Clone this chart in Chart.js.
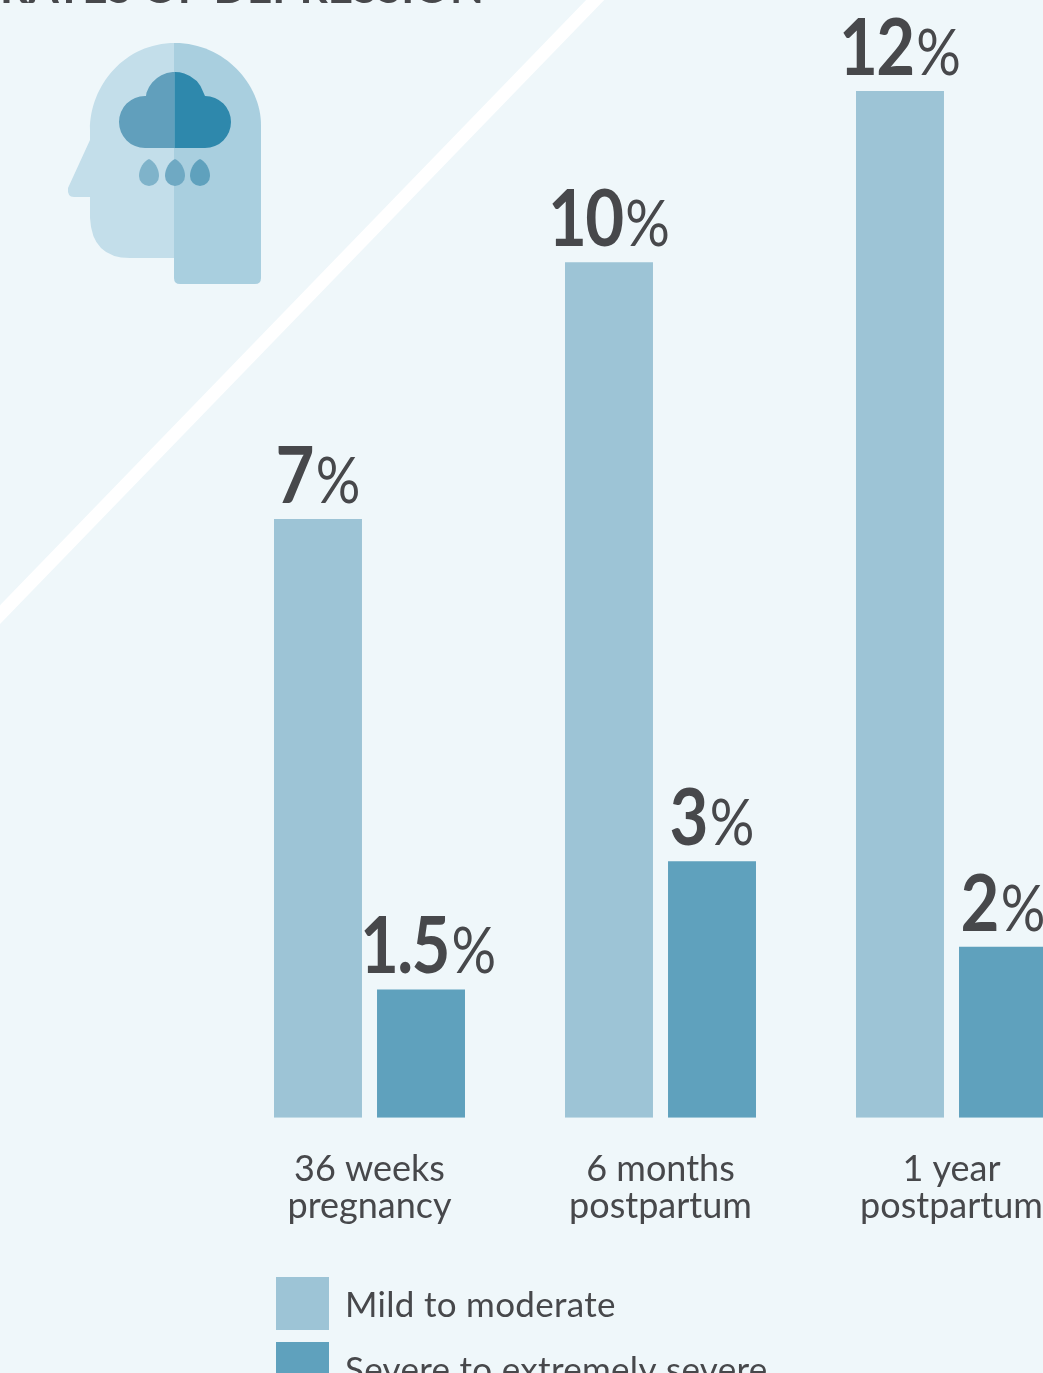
<!DOCTYPE html>
<html><head><meta charset="utf-8">
<style>
html,body{margin:0;padding:0;background:#eff7fa;width:1043px;height:1373px;overflow:hidden}
#wrap{position:relative;width:1043px;height:1373px;overflow:hidden}
canvas{display:block}
</style>
<script src="https://cdn.jsdelivr.net/npm/chart.js@4/dist/chart.umd.js"></script>
</head><body>
<div id="wrap"><canvas id="c" width="1097" height="1373"></canvas></div>
<script>
const categories = [["36 weeks","pregnancy"],["6 months","postpartum"],["1 year","postpartum"]];
const mildValues = [7,10,12];
const severeValues = [1.5,3,2];
const seriesNames = ["Mild to moderate","Severe to extremely severe"];
const seriesColors = ["#9dc4d6","#5fa1bd"];
const titleText = "RATES OF DEPRESSION";
const textColor = "#47484b";
const fontFamily = "Lato, 'Open Sans', sans-serif";

function pathRound(ctx, pts){ctx.beginPath();pts(ctx);ctx.closePath();ctx.fill();}

const backdrop = {
  id:'backdrop',
  beforeDraw(chart){
    const ctx = chart.ctx;
    ctx.save();
    ctx.fillStyle = '#eff7fa';
    ctx.fillRect(0,0,chart.width,chart.height);
    ctx.strokeStyle = '#ffffff';
    ctx.lineWidth = 13;
    ctx.beginPath();ctx.moveTo(-10,625);ctx.lineTo(600,-5);ctx.stroke();
    ctx.fillStyle = textColor;
    ctx.font = "700 44px " + fontFamily;
    ctx.textBaseline = 'alphabetic';
    ctx.textAlign = 'left';
    ctx.fillText(titleText, 0, 3);
    const head = c=>{
      c.moveTo(175,43);
      c.bezierCurveTo(125,43,90,85,90,130);
      c.lineTo(90,140);
      c.lineTo(68,188);
      c.quadraticCurveTo(67,197,74,197);
      c.lineTo(90,197);
      c.lineTo(90,218);
      c.quadraticCurveTo(92,258,130,258);
      c.lineTo(175,258);
    };
    ctx.fillStyle = '#c3deea';
    pathRound(ctx, head);
    ctx.fillStyle = '#a9cfdf';
    pathRound(ctx, c=>{
      c.moveTo(175,43);
      c.bezierCurveTo(225,43,261,85,261,125);
      c.lineTo(261,278);
      c.quadraticCurveTo(261,284,255,284);
      c.lineTo(180,284);
      c.quadraticCurveTo(174,284,174,278);
      c.lineTo(174,43);
    });
    const cloud = c=>{
      c.moveTo(145,148);
      c.arc(145,122,26,Math.PI/2,Math.PI*1.5);
      c.lineTo(146,96);
      c.arc(175,102,30,Math.PI*1.1,Math.PI*1.9);
      c.lineTo(205,96);
      c.arc(205,122,26,Math.PI*1.5,Math.PI/2);
      c.lineTo(145,148);
    };
    ctx.save();ctx.beginPath();ctx.rect(100,60,74.5,100);ctx.clip();
    ctx.fillStyle='#619fbc';pathRound(ctx,cloud);ctx.restore();
    ctx.save();ctx.beginPath();ctx.rect(174.5,60,70,100);ctx.clip();
    ctx.fillStyle='#2e88ac';pathRound(ctx,cloud);ctx.restore();
    [[149,'#7fb3ca'],[175,'#6fa9c3'],[200,'#5fa1bd']].forEach(([x,col])=>{
      ctx.fillStyle=col;
      pathRound(ctx,c=>{
        c.moveTo(x,159);
        c.bezierCurveTo(x+5,161,x+10,168,x+10,176);
        c.arc(x,176,10,0,Math.PI);
        c.bezierCurveTo(x-10,168,x-5,161,x,159);
      });
    });
    ctx.restore();
  }
};

function squeezed(ctx, text, x, y, font, sx, spacing){
  ctx.save();
  ctx.font = font;
  ctx.letterSpacing = spacing;
  ctx.translate(x,y);
  ctx.scale(sx,1);
  ctx.fillText(text,0,0);
  ctx.restore();
}
function squeezedWidth(ctx, text, font, sx, spacing){
  ctx.save();
  ctx.font = font;
  ctx.letterSpacing = spacing;
  const w = ctx.measureText(text).width*sx;
  ctx.restore();
  return w;
}

const valueLabels = {
  id:'valueLabels',
  afterDatasetsDraw(chart){
    const ctx = chart.ctx;
    ctx.save();
    ctx.fillStyle = textColor;
    ctx.textBaseline = 'alphabetic';
    ctx.textAlign='left';
    const numFont = "700 78px " + fontFamily;
    const pctFont = "400 64px " + fontFamily;
    chart.data.datasets.forEach((ds,di)=>{
      chart.getDatasetMeta(di).data.forEach((bar,i)=>{
        const num = String(ds.data[i]);
        const nw = squeezedWidth(ctx,num,numFont,0.86,"-2px");
        const pw = squeezedWidth(ctx,'%',pctFont,0.87,"0px");
        let x0 = bar.x - (nw+pw+3)/2;
        if(di===1) x0 = Math.max(x0, bar.x - bar.width/2 - 17);
        const y = bar.y - 16;
        squeezed(ctx,num,x0,y,numFont,0.86,"-2px");
        squeezed(ctx,'%',x0+nw+3,y,pctFont,0.87,"0px");
      });
    });
    ctx.restore();
  }
};

const keyBlock = {
  id:'keyBlock',
  afterDraw(chart){
    const ctx = chart.ctx;
    ctx.save();
    ctx.textBaseline='middle';
    ctx.textAlign='left';
    ctx.font = "400 35px " + fontFamily;
    ctx.letterSpacing = "0.3px";
    chart.data.datasets.forEach((ds,i)=>{
      const top = 1277 + i*65;
      ctx.fillStyle = ds.backgroundColor;
      ctx.fillRect(276,top,53,53);
      ctx.fillStyle = textColor;
      ctx.fillText(ds.label,345,top+29);
    });
    ctx.restore();
  }
};

new Chart(document.getElementById('c'),{
  type:'bar',
  data:{
    labels:categories,
    datasets:[
      {label:seriesNames[0],data:mildValues,backgroundColor:seriesColors[0],borderWidth:0,categoryPercentage:0.708,barPercentage:0.854},
      {label:seriesNames[1],data:severeValues,backgroundColor:seriesColors[1],borderWidth:0,categoryPercentage:0.708,barPercentage:0.854}
    ]
  },
  options:{
    responsive:false,
    animation:false,
    layout:{padding:{left:224,right:0,top:5.5,bottom:123}},
    plugins:{legend:{display:false},tooltip:{enabled:false},title:{display:false}},
    scales:{
      x:{
        grid:{display:false},
        border:{display:false},
        ticks:{color:textColor,font:{family:fontFamily,size:36,lineHeight:1.03},padding:25,maxRotation:0,autoSkip:false}
      },
      y:{
        display:false,
        min:0,max:13,
      }
    }
  },
  plugins:[backdrop,valueLabels,keyBlock]
});
</script>
</body></html>
